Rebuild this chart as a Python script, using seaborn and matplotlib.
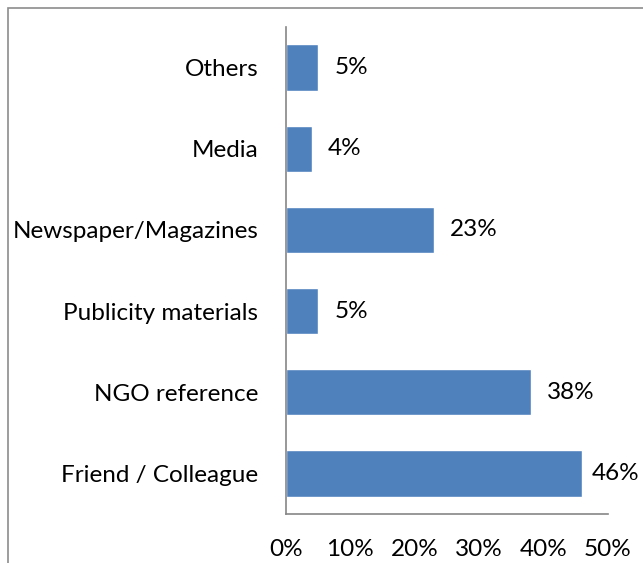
import matplotlib
matplotlib.use("Agg")
import matplotlib.pyplot as plt
from matplotlib.patches import Rectangle
from matplotlib.ticker import FuncFormatter
import seaborn as sns
import pandas as pd

# Sources through which respondents heard about the organisation (%)
sources = ["Others", "Media", "Newspaper/Magazines", "Publicity materials",
           "NGO reference", "Friend / Colleague"]
shares = [5, 4, 23, 5, 38, 46]
x_ticks = [0, 10, 20, 30, 40, 50]

df = pd.DataFrame({"source": sources, "share": shares})

sns.set_theme(style="white")
plt.rcParams["font.family"] = ["Lato", "DejaVu Sans"]

FS = 17.5
fig = plt.figure(figsize=(6.43, 5.63), dpi=100)
W, H = 643, 563
ax = fig.add_axes([286 / W, 1 - 514 / H, (608 - 286) / W, (514 - 27) / H])

sns.barplot(data=df, x="share", y="source", orient="h", color="#4F81BD",
            saturation=1, width=0.57, ax=ax)

for patch, v in zip(ax.patches, shares):
    y = patch.get_y() + patch.get_height() / 2
    # the longest bar's label is nudged in to stay inside the chart area
    off = 7 if v == max(shares) else 11.5
    ax.annotate(f"{v}%", xy=(v, y), xytext=(off, 0), textcoords="offset points",
                ha="left", va="center", fontsize=FS, color="black",
                annotation_clip=False)

ax.set_xlim(0, 50)
ax.set_ylim(5.5, -0.5)
ax.set_xticks(x_ticks)
ax.xaxis.set_major_formatter(FuncFormatter(lambda v, _: f"{v:.0f}%"))
ax.set_xlabel("")
ax.set_ylabel("")
ax.tick_params(axis="x", length=0, pad=18, labelsize=FS, labelcolor="black")
ax.tick_params(axis="y", length=0, pad=20, labelsize=FS, labelcolor="black")

for side in ("top", "right"):
    ax.spines[side].set_visible(False)
for side in ("left", "bottom"):
    ax.spines[side].set_color("#868686")
    ax.spines[side].set_linewidth(1.2)

# chart-area border
fig.patches.append(Rectangle((8 / W, -0.1), 1.2, 1 - 8 / H + 0.1,
                             transform=fig.transFigure, fill=False,
                             edgecolor="#8c8c8c", linewidth=1.2))

fig.savefig("out.png", dpi=100)
